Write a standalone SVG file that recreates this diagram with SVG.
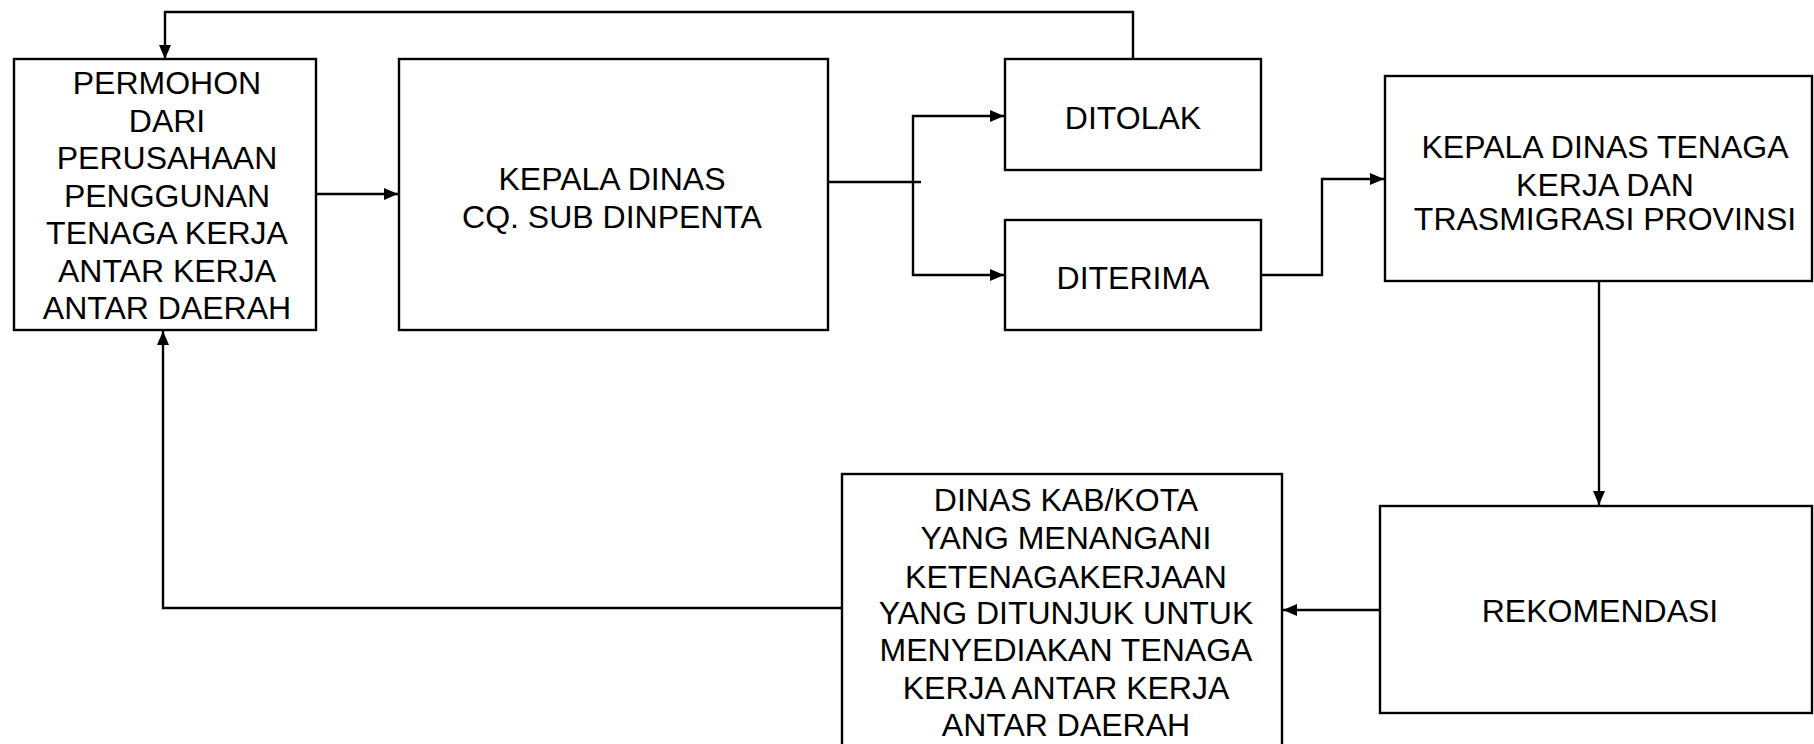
<svg xmlns="http://www.w3.org/2000/svg" width="1814" height="744" viewBox="0 0 1814 744">
<style>
.box{fill:#fff;stroke:#000;stroke-width:2.4}
.c{fill:none;stroke:#000;stroke-width:2.4}
text{font-family:"Liberation Sans",Arial,sans-serif;font-size:32px;fill:#000;text-anchor:middle}
</style>
<defs>
<marker id="ah" viewBox="0 0 14 12" refX="14" refY="6" markerWidth="14" markerHeight="12" markerUnits="userSpaceOnUse" orient="auto">
<path d="M0,0 L14,6 L0,12 Z" fill="#000"/>
</marker>
</defs>
<rect width="1814" height="744" fill="#fff"/>
<g id="connectors">
<path class="c" d="M1133,59 V12 H165 V59" marker-end="url(#ah)"/>
<path class="c" d="M316,194 H398" marker-end="url(#ah)"/>
<path class="c" d="M828,182 H921"/>
<path class="c" d="M913,182 V116 H1004" marker-end="url(#ah)"/>
<path class="c" d="M913,182 V275 H1004" marker-end="url(#ah)"/>
<path class="c" d="M1261,275 H1322 V179 H1384" marker-end="url(#ah)"/>
<path class="c" d="M1599,281 V505" marker-end="url(#ah)"/>
<path class="c" d="M1380,610 H1283" marker-end="url(#ah)"/>
<path class="c" d="M842,608 H163 V331" marker-end="url(#ah)"/>
</g>
<g id="permohon">
<rect class="box" x="14" y="59" width="302" height="271"/>
<text x="167" y="94">PERMOHON</text>
<text x="167" y="131.5">DARI</text>
<text x="167" y="169">PERUSAHAAN</text>
<text x="167" y="206.5">PENGGUNAN</text>
<text x="167" y="244">TENAGA KERJA</text>
<text x="167" y="281.5">ANTAR KERJA</text>
<text x="167" y="319">ANTAR DAERAH</text>
</g>
<g id="kepala-dinas">
<rect class="box" x="399" y="59" width="429" height="271"/>
<text x="612" y="190">KEPALA DINAS</text>
<text x="612" y="228">CQ. SUB DINPENTA</text>
</g>
<g id="ditolak">
<rect class="box" x="1005" y="59" width="256" height="111"/>
<text x="1133" y="129">DITOLAK</text>
</g>
<g id="diterima">
<rect class="box" x="1005" y="220" width="256" height="110"/>
<text x="1133" y="289">DITERIMA</text>
</g>
<g id="kepala-provinsi">
<rect class="box" x="1385" y="76" width="427" height="205"/>
<text x="1605" y="158">KEPALA DINAS TENAGA</text>
<text x="1605" y="196">KERJA DAN</text>
<text x="1605" y="230">TRASMIGRASI PROVINSI</text>
</g>
<g id="rekomendasi">
<rect class="box" x="1380" y="506" width="432" height="207"/>
<text x="1600" y="622">REKOMENDASI</text>
</g>
<g id="dinas-kab">
<rect class="box" x="842" y="474" width="440" height="275"/>
<text x="1066" y="511">DINAS KAB/KOTA</text>
<text x="1066" y="549">YANG MENANGANI</text>
<text x="1066" y="588">KETENAGAKERJAAN</text>
<text x="1066" y="624">YANG DITUNJUK UNTUK</text>
<text x="1066" y="661">MENYEDIAKAN TENAGA</text>
<text x="1066" y="699">KERJA ANTAR KERJA</text>
<text x="1066" y="736">ANTAR DAERAH</text>
</g>
</svg>
